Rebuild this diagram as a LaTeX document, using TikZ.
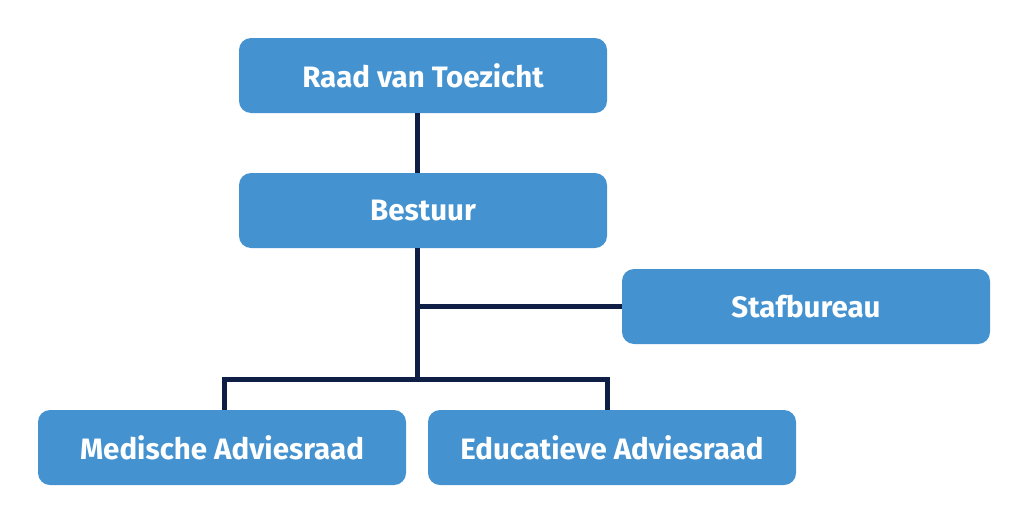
\documentclass[tikz,border=0pt]{standalone}
\usepackage{fontspec}
\setmainfont{Fira Sans}
\usetikzlibrary{positioning}
\definecolor{boxblue}{HTML}{4493D0}
\definecolor{linenavy}{HTML}{0F1E44}
\tikzstyle{orgbox}=[rectangle,rounded corners=12pt,fill=boxblue,minimum width=368pt,minimum height=75pt,inner sep=0pt,text=white,font=\fontsize{29.5}{34}\selectfont\bfseries]
\tikzstyle{orgline}=[draw=linenavy,line width=5pt]
\begin{document}
\begin{tikzpicture}[x=1pt,y=-1pt]
    \useasboundingbox (0,0) rectangle (1024,530);

    \foreach \pos/\name/\label in {{(423,75.5)/raad/Raad van Toezicht}, {(423,210.5)/bestuur/Bestuur}, {(806,306.5)/staf/Stafbureau}, {(222,447.5)/medisch/Medische Adviesraad}, {(612,447.5)/educatief/Educatieve Adviesraad}}
        \node[orgbox] (\name) at \pos {\label};

    \coordinate (tap) at (417,306);
    \coordinate (split) at (417,379.5);
    \coordinate (links) at (224,379.5);
    \coordinate (rechts) at (607,379.5);

    \path[orgline] (raad.south -| tap) -- (bestuur.north -| tap);
    \path[orgline] (bestuur.south -| tap) -- (split);
    \path[orgline] (tap) -- (staf.west |- tap);
    \path[orgline] (medisch.north -| links) -- (links) -- (rechts) -- (educatief.north -| rechts);

\end{tikzpicture}
\end{document}
